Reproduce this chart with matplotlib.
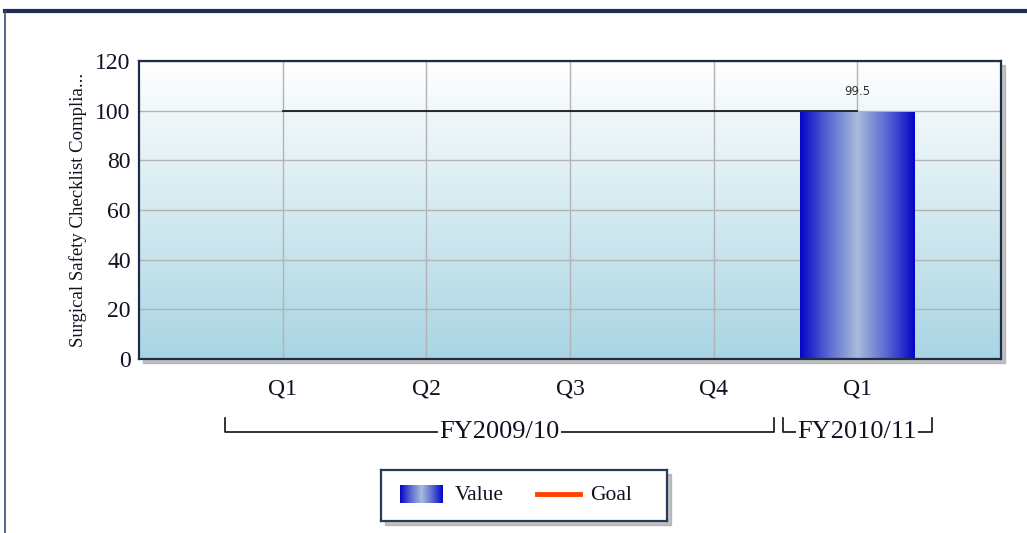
import numpy as np
import matplotlib
matplotlib.use("Agg")
import matplotlib.pyplot as plt
from matplotlib.colors import LinearSegmentedColormap
from matplotlib.patches import Rectangle
from matplotlib.lines import Line2D

# data
quarters = ["Q1", "Q2", "Q3", "Q4", "Q1"]
values = [None, None, None, None, 99.5]
goal = [100, 100, 100, 100, 100]
groups = [("FY2009/10", 0, 3), ("FY2010/11", 4, 4)]
ylabel = "Surgical Safety Checklist Complia..."

W, H = 1027, 533
plt.rcParams["font.family"] = ["Liberation Serif", "DejaVu Serif"]

fig = plt.figure(figsize=(W / 100, H / 100), dpi=100)
fig.patch.set_facecolor("white")

# outer border of the page panel
fig.add_artist(Line2D([5 / W, 1], [1 - 11 / H, 1 - 11 / H], color="#1c2f52", lw=3))
fig.add_artist(Line2D([5 / W, 5 / W], [0, 1 - 11 / H], color="#3a4e78", lw=1.2))

# plot area
L, T, R, B = 139, 61, 1001, 359
ax = fig.add_axes([L / W, 1 - B / H, (R - L) / W, (B - T) / H])

# shadow behind plot area
fig.add_artist(Rectangle(((L + 4) / W, 1 - (B + 4) / H), (R - L) / W, (B - T) / H,
                         transform=fig.transFigure, color="#9a9a9a", alpha=0.6, zorder=0))

x = np.arange(len(quarters))

# background gradient
bg = LinearSegmentedColormap.from_list("bg", ["#a9d5e3", "#ffffff"])
grad = np.linspace(0, 1, 256).reshape(-1, 1)
ax.imshow(grad, cmap=bg, aspect="auto", extent=[0, 1, 0, 1], origin="lower",
          transform=ax.transAxes, zorder=0)

ax.set_yticks(range(0, 121, 20))
ax.set_xticks(x)
ax.set_xticklabels(quarters)
ax.grid(True, color="#b3b3b3", lw=1.0, zorder=1)
ax.set_axisbelow(True)
ax.tick_params(length=0, labelsize=17, colors="#111122")
ax.tick_params(axis="x", pad=14)
ax.tick_params(axis="y", pad=6)
for s in ax.spines.values():
    s.set_color("#1f2d4a")
    s.set_linewidth(1.6)
    s.set_zorder(5)

# bars with horizontal gradient
barcm = LinearSegmentedColormap.from_list("bar", ["#0505c8", "#5a6ad2", "#a9bcdc", "#5a6ad2", "#0505c8"])
hgrad = np.linspace(0, 1, 256).reshape(1, -1)
for xi, v in zip(x, values):
    if v is None:
        continue
    bar = ax.bar(xi, v, width=0.8, color="#0505c8", zorder=2)[0]
    im = ax.imshow(hgrad, cmap=barcm, aspect="auto",
                   extent=[xi - 0.4, xi + 0.4, 0, v], zorder=3)
    im.set_clip_path(bar)
    ax.annotate(f"{v:g}", (xi, v), xytext=(0, 10), textcoords="offset points",
                ha="center", va="bottom", fontsize=8.5, family="DejaVu Sans", color="#333333")
ax.set_xlim(-1.0, 5.0)
ax.set_ylim(0, 120)

# goal line
ax.plot(x, goal, color="#1a1a1a", lw=1.3, zorder=4)

ax.set_ylabel(ylabel, fontsize=13.5, color="#111122", labelpad=6)

# group brackets under the axis
tr = ax.get_xaxis_transform()
ytop, ybot = -0.198, -0.245
for name, a, b in groups:
    if a == b:
        x0, x1 = a - 0.52, b + 0.52
    else:
        x0, x1 = a - 0.40, b + 0.42
    ax.plot([x0, x0, x1, x1], [ytop, ybot, ybot, ytop], transform=tr,
            color="#111111", lw=1.2, clip_on=False)
    ax.text((x0 + x1) / 2, ybot, name, transform=tr, ha="center", va="center",
            fontsize=19, color="#111122",
            bbox=dict(facecolor="white", edgecolor="none", pad=1.0))

# legend box built by hand
lx0, ly0, lx1, ly1 = 381, 470, 667, 521
fig.add_artist(Rectangle(((lx0 + 4) / W, 1 - (ly1 + 4) / H), (lx1 - lx0) / W, (ly1 - ly0) / H,
                         transform=fig.transFigure, color="#9a9a9a", alpha=0.6, zorder=0))
lax = fig.add_axes([lx0 / W, 1 - ly1 / H, (lx1 - lx0) / W, (ly1 - ly0) / H])
lax.set_xticks([])
lax.set_yticks([])
for s in lax.spines.values():
    s.set_color("#2a3a5c")
    s.set_linewidth(1.6)
lax.imshow(hgrad, cmap=barcm, aspect="auto", extent=[400, 443, 503, 485], zorder=2)
lax.text(455, 495, "Value", va="center", ha="left", fontsize=15.5, color="#111122")
lax.plot([537, 580], [494, 494], color="#ff4000", lw=3.5)
lax.text(590, 495, "Goal", va="center", ha="left", fontsize=15.5, color="#111122")
lax.set_xlim(lx0, lx1)
lax.set_ylim(ly1, ly0)

fig.savefig("out.png", dpi=100)
